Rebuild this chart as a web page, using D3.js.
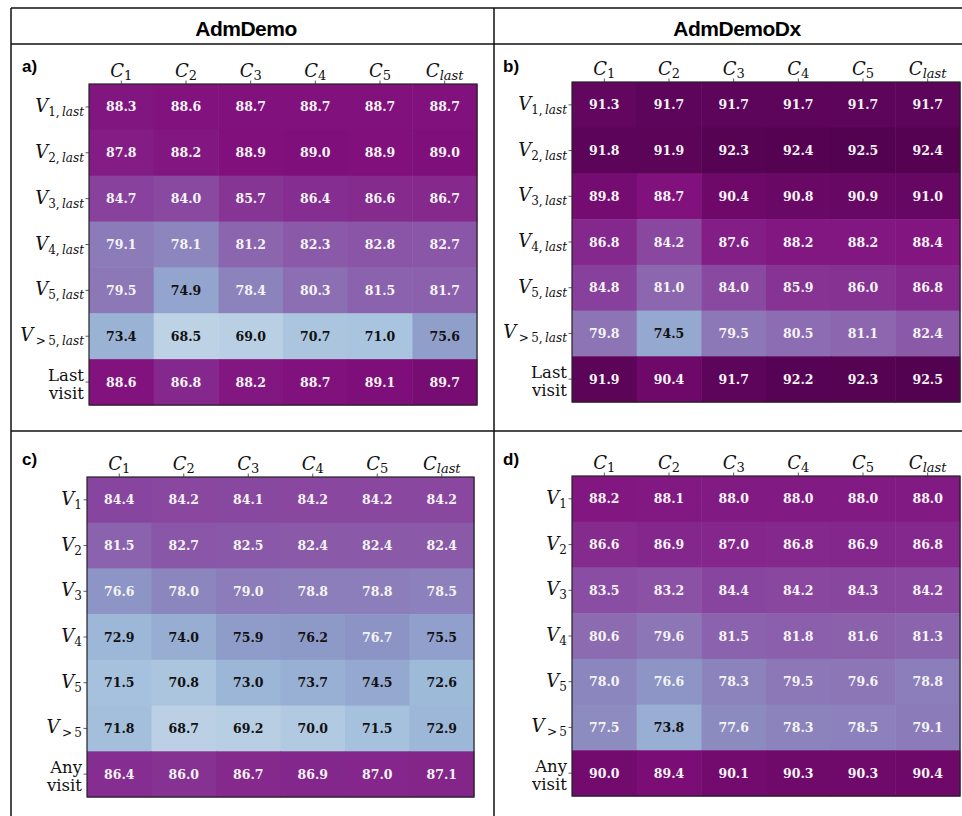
<!DOCTYPE html>
<html>
<head>
<meta charset="utf-8">
<script src="https://d3js.org/d3.v7.min.js"></script>
<style>
  body { margin: 0; background: #fff; }
  svg { display: block; }
</style>
</head>
<body>
<div id="chartHere"></div>
<script>

// columns / rows
var cols = ["1", "2", "3", "4", "5", "last"];
var rowsLast = ["1", "2", "3", "4", "5", ">5", "Last visit"];
var rowsAny = ["1", "2", "3", "4", "5", ">5", "Any visit"];

// a) AdmDemo, last visit
var valsA = [
  [88.3, 88.6, 88.7, 88.7, 88.7, 88.7],
  [87.8, 88.2, 88.9, 89.0, 88.9, 89.0],
  [84.7, 84.0, 85.7, 86.4, 86.6, 86.7],
  [79.1, 78.1, 81.2, 82.3, 82.8, 82.7],
  [79.5, 74.9, 78.4, 80.3, 81.5, 81.7],
  [73.4, 68.5, 69.0, 70.7, 71.0, 75.6],
  [88.6, 86.8, 88.2, 88.7, 89.1, 89.7]
];
// b) AdmDemoDx, last visit
var valsB = [
  [91.3, 91.7, 91.7, 91.7, 91.7, 91.7],
  [91.8, 91.9, 92.3, 92.4, 92.5, 92.4],
  [89.8, 88.7, 90.4, 90.8, 90.9, 91.0],
  [86.8, 84.2, 87.6, 88.2, 88.2, 88.4],
  [84.8, 81.0, 84.0, 85.9, 86.0, 86.8],
  [79.8, 74.5, 79.5, 80.5, 81.1, 82.4],
  [91.9, 90.4, 91.7, 92.2, 92.3, 92.5]
];
// c) AdmDemo, any visit
var valsC = [
  [84.4, 84.2, 84.1, 84.2, 84.2, 84.2],
  [81.5, 82.7, 82.5, 82.4, 82.4, 82.4],
  [76.6, 78.0, 79.0, 78.8, 78.8, 78.5],
  [72.9, 74.0, 75.9, 76.2, 76.7, 75.5],
  [71.5, 70.8, 73.0, 73.7, 74.5, 72.6],
  [71.8, 68.7, 69.2, 70.0, 71.5, 72.9],
  [86.4, 86.0, 86.7, 86.9, 87.0, 87.1]
];
// d) AdmDemoDx, any visit
var valsD = [
  [88.2, 88.1, 88.0, 88.0, 88.0, 88.0],
  [86.6, 86.9, 87.0, 86.8, 86.9, 86.8],
  [83.5, 83.2, 84.4, 84.2, 84.3, 84.2],
  [80.6, 79.6, 81.5, 81.8, 81.6, 81.3],
  [78.0, 76.6, 78.3, 79.5, 79.6, 78.8],
  [77.5, 73.8, 77.6, 78.3, 78.5, 79.1],
  [90.0, 89.4, 90.1, 90.3, 90.3, 90.4]
];

var titles = ["AdmDemo", "AdmDemoDx"];

var W = 962, H = 816;
var svg = d3.select("#chartHere").append("svg")
  .attr("width", W).attr("height", H);

// BuPu (matplotlib style: linear between the 9 brewer colours)
var bupu = ["#f7fcfd", "#e0ecf4", "#bfd3e6", "#9ebcda", "#8c96c6",
            "#8c6bb1", "#88419d", "#810f7c", "#4d004b"];
var color = d3.scaleLinear()
  .domain(d3.range(9).map(function (i) { return 60 + i * (93 - 60) / 8; }))
  .range(bupu)
  .clamp(true);

var serif = "DejaVu Serif";
var sans = "Liberation Sans, Arial, sans-serif";

// table lines
var lines = [
  [11, 8, W, 8], [11, 44, W, 44], [11, 8, 11, H],
  [494, 8, 494, H], [11, 431, W, 431]
];
svg.selectAll("line.grid").data(lines).enter().append("line")
  .attr("class", "grid")
  .attr("x1", function (d) { return d[0]; })
  .attr("y1", function (d) { return d[1]; })
  .attr("x2", function (d) { return d[2]; })
  .attr("y2", function (d) { return d[3]; })
  .attr("stroke", "#111").attr("stroke-width", 1.5);

svg.append("text").attr("x", 246).attr("y", 36)
  .attr("text-anchor", "middle").attr("font-family", sans)
  .attr("font-weight", "bold").attr("font-size", 21)
  .attr("letter-spacing", -0.5).text(titles[0]);
svg.append("text").attr("x", 737).attr("y", 36)
  .attr("text-anchor", "middle").attr("font-family", sans)
  .attr("font-weight", "bold").attr("font-size", 21)
  .attr("letter-spacing", -0.5).text(titles[1]);

function panel(vals, rows, box, letter, lx, ly) {
  var g = svg.append("g");

  var x = d3.scaleBand().domain(cols).range([box.x0, box.x1]);
  var y = d3.scaleBand().domain(rows).range([box.y0, box.y1]);

  svg.append("text").attr("x", lx).attr("y", ly)
    .attr("font-family", sans).attr("font-weight", "bold")
    .attr("font-size", 17).text(letter);

  var cells = [];
  vals.forEach(function (r, i) {
    r.forEach(function (v, j) { cells.push({ r: rows[i], c: cols[j], v: v }); });
  });

  g.selectAll("rect.cell").data(cells).enter().append("rect")
    .attr("class", "cell")
    .attr("x", function (d) { return x(d.c); })
    .attr("y", function (d) { return y(d.r); })
    .attr("width", x.bandwidth() + 0.5)
    .attr("height", y.bandwidth() + 0.5)
    .attr("fill", function (d) { return color(d.v); });

  g.selectAll("text.val").data(cells).enter().append("text")
    .attr("class", "val")
    .attr("x", function (d) { return x(d.c) + x.bandwidth() / 2; })
    .attr("y", function (d) { return y(d.r) + y.bandwidth() / 2 + 4.5; })
    .attr("text-anchor", "middle")
    .attr("font-family", serif).attr("font-weight", "bold")
    .attr("font-size", 12.5)
    .attr("fill", function (d) { return d.v < 76.4 ? "#111" : "#f4f4f4"; })
    .text(function (d) { return d.v.toFixed(1); });

  // frame
  g.append("rect")
    .attr("x", box.x0).attr("y", box.y0)
    .attr("width", box.x1 - box.x0).attr("height", box.y1 - box.y0)
    .attr("fill", "none").attr("stroke", "#222").attr("stroke-width", 1.2);

  // top axis (C labels)
  var xAxis = d3.axisTop(x).tickSize(3.5).tickFormat("");
  var ax = g.append("g").attr("transform", "translate(0," + box.y0 + ")").call(xAxis);
  ax.select(".domain").remove();
  ax.selectAll("line").attr("stroke", "#333").attr("stroke-width", 0.8);

  cols.forEach(function (c) {
    var t = g.append("text")
      .attr("x", x(c) + x.bandwidth() / 2).attr("y", box.y0 - 7)
      .attr("text-anchor", "middle").attr("font-family", serif)
      .attr("font-size", 18).attr("fill", "#111");
    t.append("tspan").attr("font-style", "italic").text("C");
    t.append("tspan").attr("font-size", 13).attr("dy", 3)
      .attr("font-style", c === "last" ? "italic" : "normal").text(c);
  });

  // left axis (V labels)
  var yAxis = d3.axisLeft(y).tickSize(3.5).tickFormat("");
  var ay = g.append("g").attr("transform", "translate(" + box.x0 + ",0)").call(yAxis);
  ay.select(".domain").remove();
  ay.selectAll("line").attr("stroke", "#333").attr("stroke-width", 0.8);

  rows.forEach(function (r, i) {
    var cy = y(r) + y.bandwidth() / 2;
    var lx2 = box.x0 - 5;
    if (i === rows.length - 1) {
      var words = r.split(" ");
      words.forEach(function (w, k) {
        g.append("text").attr("x", lx2).attr("y", cy - 1 + k * 18)
          .attr("text-anchor", "end").attr("font-family", serif)
          .attr("font-size", 16.5).attr("fill", "#111").text(w);
      });
      return;
    }
    var t = g.append("text").attr("x", lx2).attr("y", cy + 5)
      .attr("text-anchor", "end").attr("font-family", serif)
      .attr("font-size", 18).attr("fill", "#111");
    t.append("tspan").attr("font-style", "italic").text("V");
    var sub = t.append("tspan").attr("font-size", 12).attr("dy", 4);
    if (r === ">5") {
      sub.text("\u2009>\u20095");
    } else {
      sub.text(r);
    }
    if (rows[rows.length - 1] === "Last visit") {
      t.append("tspan").attr("font-size", 12).text(",\u2009");
      t.append("tspan").attr("font-size", 12).attr("font-style", "italic").text("last");
    }
  });
}

panel(valsA, rowsLast, { x0: 89, x1: 477, y0: 84, y1: 405 }, "a)", 22, 72);
panel(valsB, rowsLast, { x0: 572, x1: 960, y0: 82, y1: 402 }, "b)", 503, 72);
panel(valsC, rowsAny, { x0: 87, x1: 474, y0: 477, y1: 797 }, "c)", 22, 465);
panel(valsD, rowsAny, { x0: 572, x1: 960, y0: 476, y1: 796 }, "d)", 503, 465);

</script>
</body>
</html>
